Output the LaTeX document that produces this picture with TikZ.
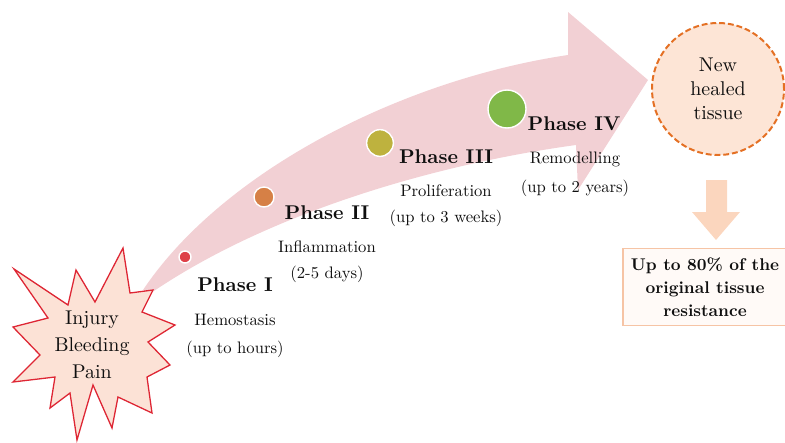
\documentclass[tikz,border=0pt]{standalone}
\usepackage{fontspec}
\setmainfont{lmroman10-regular.otf}[BoldFont=lmroman10-bold.otf]
\usetikzlibrary{positioning}
\definecolor{arrowpink}{RGB}{242,208,212}
\definecolor{burstfill}{RGB}{252,226,214}
\definecolor{burstred}{RGB}{222,38,52}
\definecolor{healfill}{RGB}{253,229,214}
\definecolor{healorange}{RGB}{228,112,36}
\definecolor{downfill}{RGB}{251,214,190}
\definecolor{boxline}{RGB}{246,196,165}
\definecolor{boxfill}{RGB}{255,250,247}
\definecolor{inkblack}{RGB}{15,15,15}
\definecolor{dotone}{RGB}{222,64,72}
\definecolor{dottwo}{RGB}{214,128,70}
\definecolor{dotthree}{RGB}{190,178,62}
\definecolor{dotfour}{RGB}{128,184,72}
\tikzset
{
  phasedot/.style={circle,draw=white,line width=1.2pt,inner sep=0pt},
  phasename/.style={font=\fontsize{17}{20}\selectfont\bfseries,text=inkblack,inner sep=0pt},
  phasenote/.style={font=\fontsize{14.2}{16}\selectfont,text=inkblack,inner sep=0pt},
  bigtext/.style={font=\fontsize{17}{23}\selectfont,text=inkblack,align=center,inner sep=0pt},
  healcircle/.style={circle,fill=healfill,draw=healorange,line width=1.7pt,dash pattern=on 5pt off 2.5pt,minimum size=3.96cm},
  resistbox/.style={draw=boxline,fill=boxfill,line width=1.3pt,align=center,minimum width=4.92cm,minimum height=2.31cm,
    font=\fontsize{14.5}{19.5}\selectfont\bfseries,text=inkblack}
}
\begin{document}
\begin{tikzpicture}[x=0.03cm,y=-0.03cm,line join=miter]
  \useasboundingbox (0,0) rectangle (785,442);
  % koordinate
  \coordinate (T1) at (143,290);
  \coordinate (U1) at (568,55);
  \coordinate (B1) at (568,12);
  \coordinate (Tip) at (648,80);
  \coordinate (B2) at (578,190);
  \coordinate (U2) at (576,145);
  \coordinate (T2) at (151,293);
  % velika puscica
  \fill[arrowpink] (T1) .. controls (222,172) and (400,80) .. (U1) -- (B1) -- (Tip) -- (B2) -- (U2)
    .. controls (430,165) and (265,215) .. (T2) -- cycle;
  % zvezda
  \draw[burstred,fill=burstfill,line width=1.1pt]
    (14,269) -- (68,305) -- (76,270) -- (95,302) -- (123,248) -- (130,293) -- (153,290) -- (142,312)
    -- (175,325) -- (148,342) -- (170,365) -- (147,377) -- (152,413) -- (118,397) -- (112,428)
    -- (93,385) -- (77,440) -- (70,393) -- (50,408) -- (55,377) -- (13,382) -- (40,355)
    -- (13,327) -- (48,318) -- cycle;
  \node[bigtext] (injury) at (92,345) {Injury\\Bleeding\\Pain};
  % faze
  \node[phasedot,fill=dotone,minimum size=0.36cm]   (d1) at (185,257) {};
  \node[phasedot,fill=dottwo,minimum size=0.6cm]    (d2) at (264,197) {};
  \node[phasedot,fill=dotthree,minimum size=0.8cm]  (d3) at (380,143) {};
  \node[phasedot,fill=dotfour,minimum size=1.14cm]  (d4) at (507,109) {};
  \node[phasename] (ph1) at (235,285) {Phase I};
  \node[phasename] (ph2) at (327,213) {Phase II};
  \node[phasename] (ph3) at (446,157) {Phase III};
  \node[phasename] (ph4) at (574,124) {Phase IV};
  \node[phasenote] (n1) at (235,320) {Hemostasis};
  \node[phasenote] (t1) at (235,349) {(up to hours)};
  \node[phasenote] (n2) at (327,247) {Inflammation};
  \node[phasenote] (t2) at (327,274) {(2-5 days)};
  \node[phasenote] (n3) at (446,191) {Proliferation};
  \node[phasenote] (t3) at (446,218) {(up to 3 weeks)};
  \node[phasenote] (n4) at (575,159) {Remodelling};
  \node[phasenote] (t4) at (575,188) {(up to 2 years)};
  % novo tkivo
  \node[healcircle] (heal) at (718,89) {};
  \node[bigtext,font=\fontsize{17}{20.5}\selectfont] (healtext) at (heal) {New\\healed\\tissue};
  % puscica dol in okvir
  \node[resistbox] (res) at (705,287) {Up to 80\% of the\\original tissue\\resistance};
  \fill[downfill] (706,180) -- (727,180) -- (727,212) -- (740,212) -- (716,240) -- (692,212) -- (706,212) -- cycle;
\end{tikzpicture}
\end{document}
